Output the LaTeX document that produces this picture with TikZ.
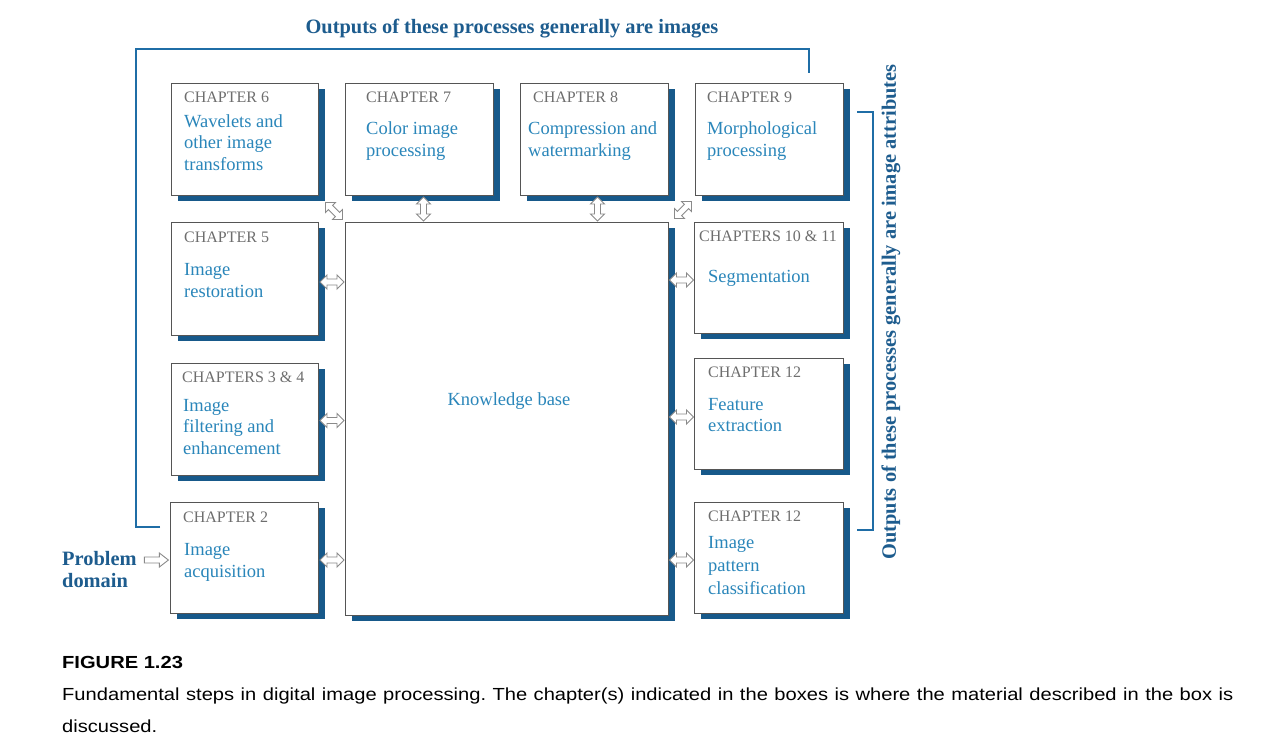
\documentclass[tikz,border=0pt]{standalone}
\usepackage{fontspec}
\setmainfont{Liberation Serif}
\newfontfamily\capsans{Liberation Sans}
\usetikzlibrary{calc,shadows}
\definecolor{shadowblue}{HTML}{17598A}
\definecolor{lineblue}{HTML}{1F6DA6}
\definecolor{headblue}{HTML}{1D5C8E}
\definecolor{titleblue}{HTML}{2A86BA}
\definecolor{chapgray}{HTML}{6E6E6E}
\definecolor{boxgray}{HTML}{555555}
\definecolor{arrowgray}{HTML}{8A8A8A}
\begin{document}
\begin{tikzpicture}[x=1pt,y=-1pt,
 procbox/.style={draw=boxgray, line width=1pt, fill=white, rectangle, inner sep=0pt, anchor=north west,
   drop shadow={shadow xshift=6pt, shadow yshift=-5pt, fill=shadowblue, opacity=1}},
 chap/.style={anchor=base west, inner sep=0pt, text=chapgray, font=\fontsize{16}{19}\selectfont},
 ttl/.style={anchor=base west, inner sep=0pt, text=titleblue, font=\fontsize{18.5}{22}\selectfont},
 bracket/.style={draw=lineblue, line width=2.5pt},
 headtext/.style={text=headblue, font=\bfseries\fontsize{20.4}{22}\selectfont, inner sep=0pt},
 captext/.style={anchor=base west, inner sep=0pt, font=\capsans\fontsize{17.5}{20}\selectfont},
 arrowline/.style={draw=arrowgray, fill=white, line width=0.9pt, line join=miter},
 dblarr/.pic={\path[arrowline] (-12,0) -- (-5,-7) -- (-5,-3) -- (5,-3) -- (5,-7) -- (12,0) -- (5,7) -- (5,3) -- (-5,3) -- (-5,7) -- cycle;},
 sarr/.pic={\path[arrowline] (-12,-3) -- (3,-3) -- (3,-7) -- (12,0) -- (3,7) -- (3,3) -- (-12,3) -- cycle;},
]
\useasboundingbox (0,0) rectangle (1280,744);
\fill[white] (0,0) rectangle (1280,744);

% boxes
\node[procbox, minimum width=147pt, minimum height=112pt] (b6) at (171,83) {};
\node[procbox, minimum width=148pt, minimum height=112pt] (b7) at (345,83) {};
\node[procbox, minimum width=148pt, minimum height=112pt] (b8) at (520,83) {};
\node[procbox, minimum width=148pt, minimum height=112pt] (b9) at (695,83) {};
\node[procbox, minimum width=147pt, minimum height=113pt] (b5) at (171,222) {};
\node[procbox, minimum width=147pt, minimum height=112pt] (b34) at (171,363) {};
\node[procbox, minimum width=148pt, minimum height=111pt] (b2) at (170,502) {};
\node[procbox, minimum width=323pt, minimum height=393pt] (kb) at (345,222) {};
\node[procbox, minimum width=149pt, minimum height=111pt] (b1011) at (694,222) {};
\node[procbox, minimum width=149pt, minimum height=111pt] (bfe) at (694,358) {};
\node[procbox, minimum width=149pt, minimum height=111pt] (bpc) at (694,502) {};

% box texts
\node[chap] at ($(b6.north west)+(13,19)$) {CHAPTER 6};
\foreach \t [count=\i from 0] in {Wavelets and, other image, transforms}
  \node[ttl] at ($(b6.north west)+(13,44+21.5*\i)$) {\t};
\node[chap] at ($(b7.north west)+(21,19)$) {CHAPTER 7};
\foreach \t [count=\i from 0] in {Color image, processing}
  \node[ttl] at ($(b7.north west)+(21,51+22*\i)$) {\t};
\node[chap] at ($(b8.north west)+(13,19)$) {CHAPTER 8};
\foreach \t [count=\i from 0] in {Compression and, watermarking}
  \node[ttl] at ($(b8.north west)+(8,51+22*\i)$) {\t};
\node[chap] at ($(b9.north west)+(12,19)$) {CHAPTER 9};
\foreach \t [count=\i from 0] in {Morphological, processing}
  \node[ttl] at ($(b9.north west)+(12,51+22*\i)$) {\t};
\node[chap] at ($(b5.north west)+(13,20)$) {CHAPTER 5};
\foreach \t [count=\i from 0] in {Image, restoration}
  \node[ttl] at ($(b5.north west)+(13,53+22*\i)$) {\t};
\node[chap] at ($(b34.north west)+(11,19)$) {CHAPTERS 3 \& 4};
\foreach \t [count=\i from 0] in {Image, filtering and, enhancement}
  \node[ttl] at ($(b34.north west)+(12,48+21.5*\i)$) {\t};
\node[chap] at ($(b2.north west)+(13,20)$) {CHAPTER 2};
\foreach \t [count=\i from 0] in {Image, acquisition}
  \node[ttl] at ($(b2.north west)+(14,53+22*\i)$) {\t};
\node[chap] at ($(b1011.north west)+(5,19)$) {CHAPTERS 10 \& 11};
\node[ttl] at ($(b1011.north west)+(14,60)$) {Segmentation};
\node[chap] at ($(bfe.north west)+(14,19)$) {CHAPTER 12};
\foreach \t [count=\i from 0] in {Feature, extraction}
  \node[ttl] at ($(bfe.north west)+(14,52+21.5*\i)$) {\t};
\node[chap] at ($(bpc.north west)+(14,19)$) {CHAPTER 12};
\foreach \t [count=\i from 0] in {Image, pattern, classification}
  \node[ttl] at ($(bpc.north west)+(14,46+23*\i)$) {\t};
\node[ttl, anchor=base] at ($(kb.north)+(2,183)$) {Knowledge base};

% arrows between boxes and knowledge base
\pic[rotate=-45] at ($(b6.south east)!0.5!(kb.north west)+(2,2)$) {dblarr};
\pic[rotate=45] at ($(b9.south west)!0.5!(kb.north east)+(1,1)$) {dblarr};
\pic[rotate=90] at ($(b7.south)!0.5!(b7.south|-kb.north)+(4,0)$) {dblarr};
\pic[rotate=90] at ($(b8.south)!0.5!(b8.south|-kb.north)+(3,0)$) {dblarr};
\pic at ($(b5.east)!0.5!(kb.west|-b5.east)+(0,3)$) {dblarr};
\pic at ($(b34.east)!0.5!(kb.west|-b34.east)+(0,1)$) {dblarr};
\pic at ($(b2.east)!0.5!(kb.west|-b2.east)+(0,2)$) {dblarr};
\pic at ($(kb.east|-b1011.west)!0.5!(b1011.west)+(0,2)$) {dblarr};
\pic at ($(kb.east|-bfe.west)!0.5!(bfe.west)+(0,3)$) {dblarr};
\pic at ($(kb.east|-bpc.west)!0.5!(bpc.west)+(0,2)$) {dblarr};

% problem domain
\node[headtext, anchor=base west] (pd1) at (62,565) {Problem};
\node[headtext, anchor=base west] (pd2) at (62,587) {domain};
\pic at ($(pd1.east)!0.5!(b2.west|-pd1.east)+(3,2)$) {sarr};

% brackets
\coordinate (lbstart) at (160,527);
\coordinate (lbend) at (809,73);
\draw[bracket] (lbstart) -- (136,527) -- (136,49) -- (809,49) -- (lbend);
\coordinate (rbtop) at (857,112);
\coordinate (rbbot) at (857,530);
\draw[bracket] (rbtop) -- (873,112) -- (873,530) -- (rbbot);
\node[headtext] (toptitle) at (512,29) {Outputs of these processes generally are images};
\node[headtext, rotate=90] (sidetitle) at (891,312) {Outputs of these processes generally are image attributes};

% caption
\node[captext, font=\capsans\bfseries\fontsize{17.5}{20}\selectfont] (figno) at (62,668) {\scalebox{1.15}[1]{FIGURE 1.23}};
\node[captext] (cap1) at (62,700) {\makebox[1171pt][s]{\scalebox{1.15}[1]{Fundamental} \scalebox{1.15}[1]{steps} \scalebox{1.15}[1]{in} \scalebox{1.15}[1]{digital} \scalebox{1.15}[1]{image} \scalebox{1.15}[1]{processing.} \scalebox{1.15}[1]{The} \scalebox{1.15}[1]{chapter(s)} \scalebox{1.15}[1]{indicated} \scalebox{1.15}[1]{in} \scalebox{1.15}[1]{the} \scalebox{1.15}[1]{boxes} \scalebox{1.15}[1]{is} \scalebox{1.15}[1]{where} \scalebox{1.15}[1]{the} \scalebox{1.15}[1]{material} \scalebox{1.15}[1]{described} \scalebox{1.15}[1]{in} \scalebox{1.15}[1]{the} \scalebox{1.15}[1]{box} \scalebox{1.15}[1]{is}}};
\node[captext] (cap2) at (62,732) {\scalebox{1.15}[1]{discussed.}};
\end{tikzpicture}
\end{document}
